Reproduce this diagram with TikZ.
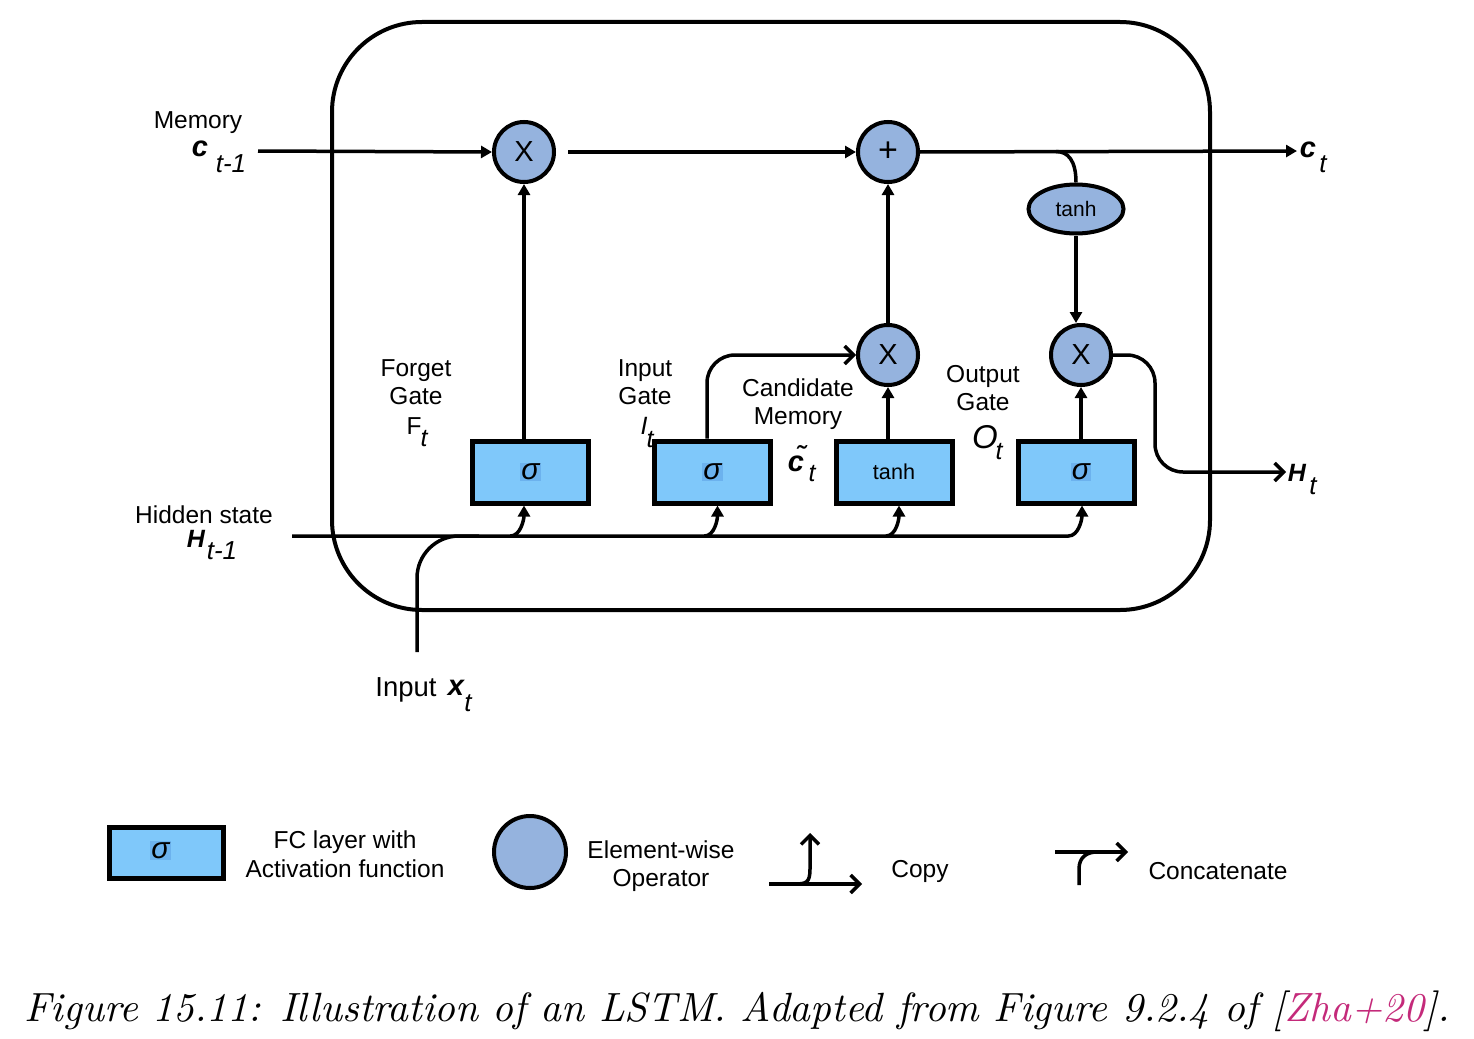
\documentclass[tikz,border=0pt]{standalone}
\usepackage{fontspec}
\usepackage{graphicx}
\newfontfamily\arialf{Liberation Sans}
\usetikzlibrary{arrows.meta,shapes.geometric,calc}
\definecolor{opfill}{RGB}{149,179,222}
\definecolor{boxfill}{RGB}{127,200,250}
\definecolor{sighl}{RGB}{108,178,238}
\definecolor{citecol}{RGB}{196,42,122}
\newcommand{\fsz}[1]{\fontsize{#1}{#1}\selectfont}
\newcommand{\sigmabox}{{\setlength{\fboxsep}{1.2pt}\colorbox{sighl}{\fsz{30}\itshape σ}}}
\tikzset{
  opnode/.style={circle,draw,fill=opfill,line width=4pt,minimum size=60pt,inner sep=0pt,font=\arialf\fsz{29}},
  layerbox/.style={rectangle,draw,fill=boxfill,line width=5pt,minimum width=116pt,minimum height=62pt,inner sep=0pt,font=\arialf\fsz{21.6}},
  lbl/.style={align=center,inner sep=0pt,font=\arialf\fontsize{24.5}{28.5}\selectfont},
  symb/.style={inner sep=0pt,font=\arialf\fsz{29}\bfseries\itshape},
  subs/.style={inner sep=0pt,font=\arialf\fsz{26}\itshape},
  wire/.style={line width=3.5pt},
  tri/.style={-{Triangle[length=11pt,width=12pt]}},
  chev/.style={-{Straight Barb[length=9pt,width=18pt]}},
}
\begin{document}
\begin{tikzpicture}[x=1pt,y=-1pt]
\useasboundingbox (0,0) rectangle (1474,1038);
% frame
\draw[line width=4pt,rounded corners=90pt] (332,22) rectangle (1210,610);

% operators
\node[opnode] (X1) at (524,152) {X};
\node[opnode,font=\arialf\fsz{34}] (P) at (888,152) {+};
\node[opnode] (X2) at (888,355) {X};
\node[opnode] (X3) at (1081,355) {X};
\node[ellipse,draw,fill=opfill,line width=4pt,minimum width=95pt,minimum height=49pt,inner sep=0pt,font=\arialf\fsz{21}] (T) at (1076,209) {tanh};

% layers
\node[layerbox] (FB) at (530.5,472) {\sigmabox};
\node[layerbox] (IB) at (712.5,472) {\sigmabox};
\node[layerbox] (TB) at (894,472) {tanh};
\node[layerbox] (OB) at (1076.5,472) {\hspace{9pt}\sigmabox};

% free ends
\coordinate (memin) at (258,151);
\coordinate (cout) at (1297,151);
\coordinate (hin) at (292,536);
\coordinate (xin) at (417,652);
\coordinate (hout) at (1286,472);

% memory line
\draw[wire,tri] (memin) -- (X1.west);
\draw[wire,tri] ([xshift=12pt]X1.east) -- (P.west);
\draw[wire,tri] (P.east) -- (cout);
\draw[wire] (T.north) .. controls +(0,-22) and +(12,0) .. ($(T.north)+(-20,-31)$);
\draw[wire,tri] (T.south) -- (T.south |- X3.north);

% vertical arrows
\draw[wire,tri] (X2.north) -- (P.south);
\draw[wire,tri] (X2.south |- TB.north) -- (X2.south);
\draw[wire,tri] (X1.south |- FB.north) -- (X1.south);
\draw[wire,tri] (X3.south |- OB.north) -- (X3.south);
\draw[wire,chev,rounded corners=28pt] ([xshift=-5.5pt]IB.north) -- ([xshift=-5.5pt]IB.north |- X2.west) -- (X2.west);

% output hidden
\coordinate (hbend) at ($(X3.east)+(42,0)$);
\draw[wire,chev,rounded corners=28pt] (X3.east) -- (hbend) -- (hbend |- hout) -- (hout);

% hidden state line and copies
\draw[wire,tri] (hin) -- ($(OB.south)+(-8,30.5)$) .. controls +(10,0) and +(0,14) .. ([xshift=5.5pt]OB.south);
\draw[wire,tri] ($(FB.south)+(-20,30.5)$) .. controls +(10,0) and +(0,14) .. ([xshift=-6.5pt]FB.south);
\draw[wire,tri] ($(IB.south)+(-8,30.5)$) .. controls +(10,0) and +(0,14) .. ([xshift=5pt]IB.south);
\draw[wire,tri] ($(TB.south)+(-8,30.5)$) .. controls +(10,0) and +(0,14) .. ([xshift=5pt]TB.south);

% input x_t
\coordinate (xj) at (xin |- hin);
\draw[wire,rounded corners=42pt] (xin) -- (xj) -- ($(xj)+(62,0)$);

% labels
\node[lbl] (memlbl) at (198,123) {Memory};
\node[symb] (cprev) at (200,149) {c};
\node[subs] (cprevs) at (231,164) {t-1};
\node[lbl] (hidlbl) at (204,515) {Hidden state};
\node[symb,font=\arialf\fsz{25}\bfseries\itshape] (hprev) at (196,539) {H};
\node[subs] (hprevs) at (222,551) {t-1};
\node[lbl,font=\arialf\fsz{27.5}] (inlbl) at (406,690) {Input};
\node[symb,font=\arialf\fsz{29}\bfseries\itshape] (xsym) at (456,688) {x};
\node[subs] (xsub) at (468,703) {t};
\node[symb] (csym) at (1308,150) {c};
\node[subs] (csub) at (1323,164) {t};
\node[symb,font=\arialf\fsz{25}\bfseries\itshape] (hsym) at (1297,473) {H};
\node[subs] (hsub) at (1313,486) {t};

\node[lbl] (fg) at (416,382) {Forget\\Gate};
\node[lbl] (fgF) at (414,426) {F};
\node[subs,font=\arialf\fsz{25}\itshape] (fgt) at (424,439) {t};
\node[lbl] (ig) at (645,382) {Input\\Gate};
\node[lbl,font=\arialf\fsz{25}\itshape] (igI) at (644,426) {I};
\node[subs,font=\arialf\fsz{25}\itshape] (igt) at (650,440) {t};
\node[lbl] (cm) at (798,404) {Candidate\\Memory};
\node[symb,font=\arialf\fsz{29}\bfseries\itshape] (cmc) at (796,459) {\~{c}};
\node[subs,font=\arialf\fsz{25}\itshape] (cmt) at (812,474) {t};
\node[lbl] (og) at (983,388) {Output\\Gate};
\node[lbl,font=\arialf\fsz{33}\itshape] (ogO) at (985,437) {O};
\node[subs,font=\arialf\fsz{25}\itshape] (ogt) at (999,452) {t};

% legend
\node[layerbox,minimum width=114pt,minimum height=51pt] (legbox) at (166.5,852.5) {\hspace{-12pt}\raisebox{5pt}{\sigmabox}};
\node[lbl] (legboxt) at (345,854) {FC layer with\\Activation function};
\node[circle,draw,fill=opfill,line width=4pt,minimum size=72pt,inner sep=0pt] (legop) at (530,852) {};
\node[lbl] (legopt) at (661,866) {Element-wise\\Operator};
\coordinate (cpa) at (769,884);
\coordinate (cpb) at (862,884);
\coordinate (cpd) at (794,884);
\coordinate (cpc) at (810,833);
\draw[wire,chev] (cpa) -- (cpb);
\draw[wire,chev] (cpd) .. controls +(12,0) and +(0,14) .. ($(cpc)+(0,36)$) -- (cpc);
\node[lbl] (copyt) at (920,871) {Copy};
\coordinate (cca) at (1055,852);
\coordinate (ccb) at (1128,852);
\coordinate (ccc) at (1079,885);
\draw[wire,chev] (cca) -- (ccb);
\draw[wire] (ccc) -- ($(ccc)+(0,-16)$) .. controls +(0,-12) and +(-10,0) .. ($(ccc)+(18,-33)$);
\node[lbl] (conct) at (1218,871) {Concatenate};

% caption
\node[inner sep=0pt] (cap) at (737,1011) {\resizebox{1425pt}{!}{\itshape Figure 15.11: Illustration of an LSTM. Adapted from Figure 9.2.4 of [\textcolor{citecol}{Zha+20}].}};
\end{tikzpicture}
\end{document}
